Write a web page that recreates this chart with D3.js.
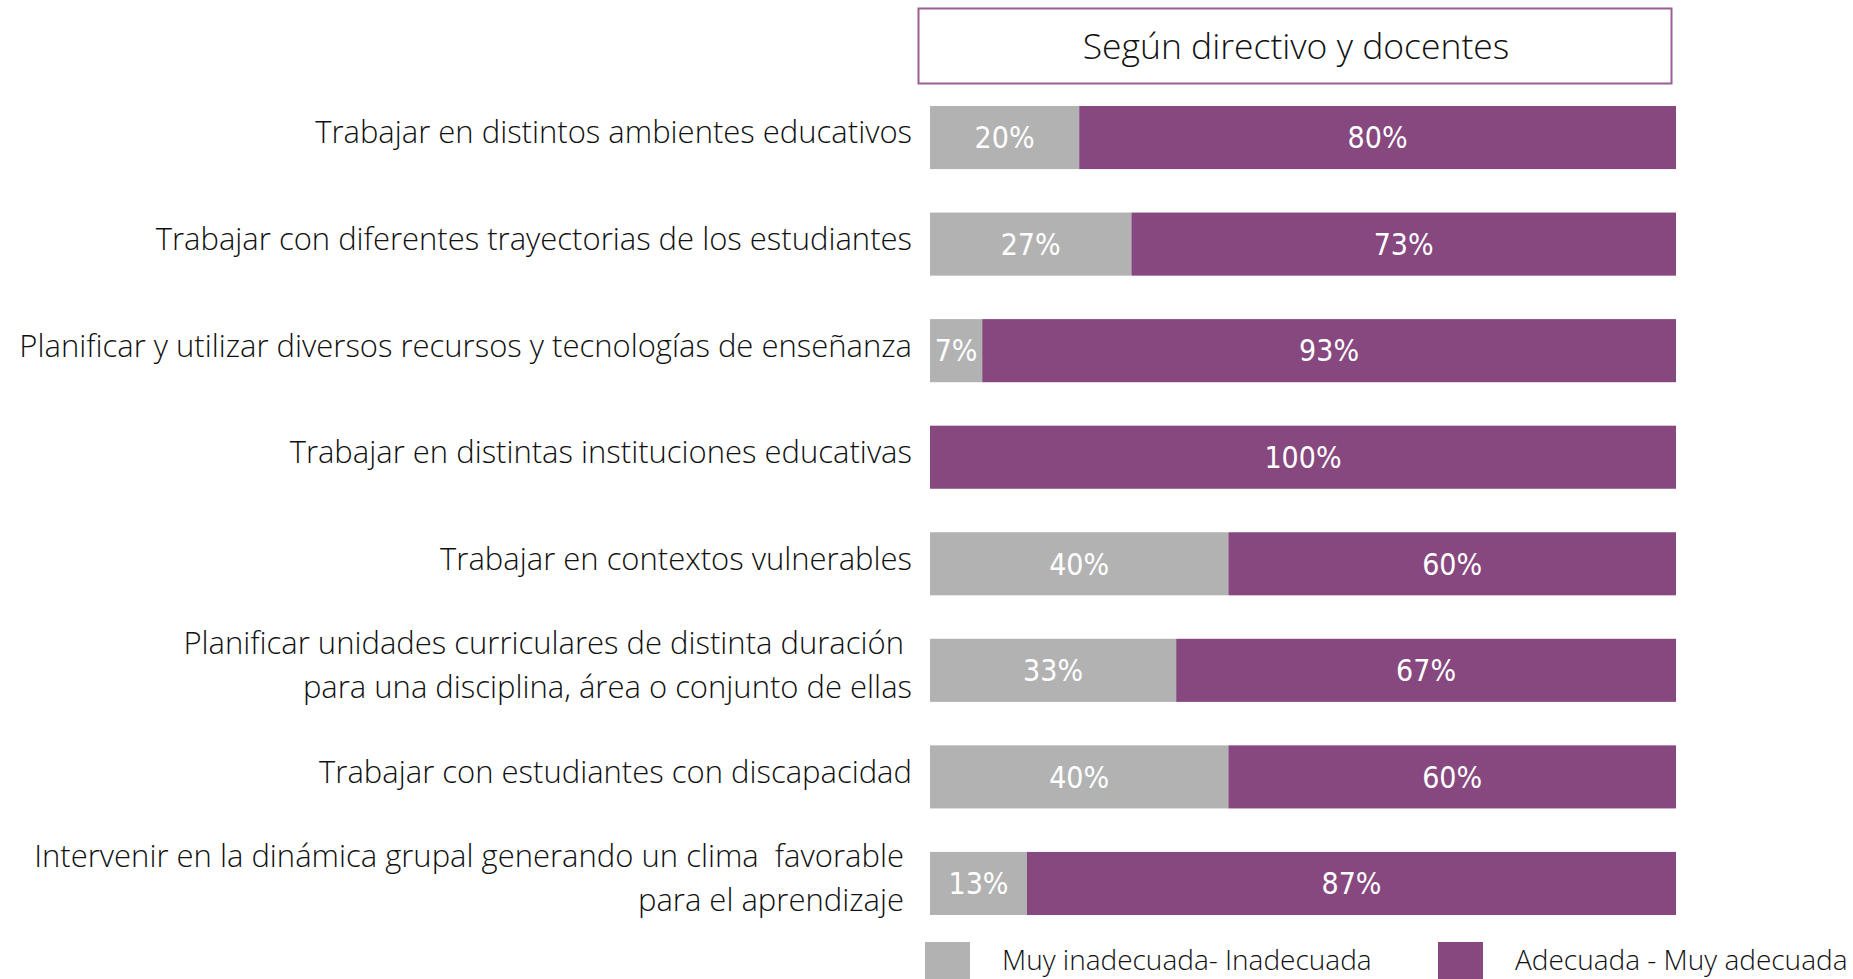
<script src="https://cdn.jsdelivr.net/npm/d3@7"></script>
<style>
  body { margin: 0; background: #fff; }
  text { white-space: pre; }
</style>
<div id="chart"></div>
<script>
  const W = 1853, H = 979;

  const title = "Según directivo y docentes";
  const categories = [
    "Trabajar en distintos ambientes educativos",
    "Trabajar con diferentes trayectorias de los estudiantes",
    "Planificar y utilizar diversos recursos y tecnologías de enseñanza",
    "Trabajar en distintas instituciones educativas",
    "Trabajar en contextos vulnerables",
    "Planificar unidades curriculares de distinta duración \npara una disciplina, área o conjunto de ellas",
    "Trabajar con estudiantes con discapacidad",
    "Intervenir en la dinámica grupal generando un clima  favorable \npara el aprendizaje "
  ];
  const inadecuada = [20, 27, 7, 0, 40, 33, 40, 13];
  const adecuada = [80, 73, 93, 100, 60, 67, 60, 87];
  const seriesNames = ["Muy inadecuada- Inadecuada", "Adecuada - Muy adecuada"];
  const colors = ["#b2b2b2", "#86487e"];

  const rows = categories.map((c, i) => ({ cat: c, vals: [inadecuada[i], adecuada[i]] }));

  const x = d3.scaleLinear().domain([0, 100]).range([930, 1676]);
  const y = d3.scaleBand().domain(d3.range(categories.length)).range([106, 915]).paddingInner(0.408);

  const svg = d3.select("#chart").append("svg")
    .attr("width", W).attr("height", H)
    .attr("viewBox", [0, 0, W, H]);

  // title box
  svg.append("rect")
    .attr("x", 918.5).attr("y", 8.5).attr("width", 753).attr("height", 75)
    .attr("fill", "#fff").attr("stroke", "#9a5f93").attr("stroke-width", 2);
  svg.append("text")
    .attr("x", 1296).attr("y", 47).attr("dy", "0.35em")
    .attr("text-anchor", "middle")
    .attr("font-family", "'Open Sans', sans-serif").attr("font-weight", 300)
    .attr("font-size", 35.5).attr("fill", "#111")
    .text(title);

  // bars
  const row = svg.selectAll("g.row").data(rows).enter().append("g").attr("class", "row");

  row.each(function(d, i) {
    const g = d3.select(this);
    let acc = 0;
    d.vals.forEach((v, k) => {
      if (v > 0) {
        g.append("rect")
          .attr("x", x(acc)).attr("y", y(i))
          .attr("width", x(acc + v) - x(acc)).attr("height", y.bandwidth())
          .attr("fill", colors[k]);
        g.append("text")
          .attr("x", (x(acc) + x(acc + v)) / 2)
          .attr("y", y(i) + y.bandwidth() / 2).attr("dy", "0.36em")
          .attr("text-anchor", "middle")
          .attr("font-family", "'DejaVu Sans Condensed', 'DejaVu Sans', sans-serif")
          .attr("font-stretch", "condensed")
          .attr("font-size", 30).attr("fill", "#fff")
          .text(v + "%");
      }
      acc += v;
    });

    // category label
    const lines = d.cat.split("\n");
    const lh = 44;
    const cy = y(i) + y.bandwidth() / 2 - 5;
    const t = g.append("text")
      .attr("text-anchor", "end")
      .attr("font-family", "'Open Sans', sans-serif").attr("font-weight", 300)
      .attr("font-size", 31).attr("fill", "#111");
    lines.forEach((ln, j) => {
      t.append("tspan")
        .attr("x", 912)
        .attr("y", cy + (j - (lines.length - 1) / 2) * lh)
        .attr("dy", "0.35em")
        .text(ln);
    });
  });

  // legend
  const leg = svg.selectAll("g.leg").data(seriesNames).enter().append("g").attr("class", "leg")
    .attr("transform", (d, i) => `translate(${[925, 1438][i]}, 942)`);
  leg.append("rect").attr("width", 45).attr("height", 38).attr("fill", (d, i) => colors[i]);
  leg.append("text")
    .attr("x", 77).attr("y", 18).attr("dy", "0.35em")
    .attr("font-family", "'Open Sans', sans-serif").attr("font-weight", 300)
    .attr("font-size", 28).attr("fill", "#111")
    .text(d => d);
</script>
